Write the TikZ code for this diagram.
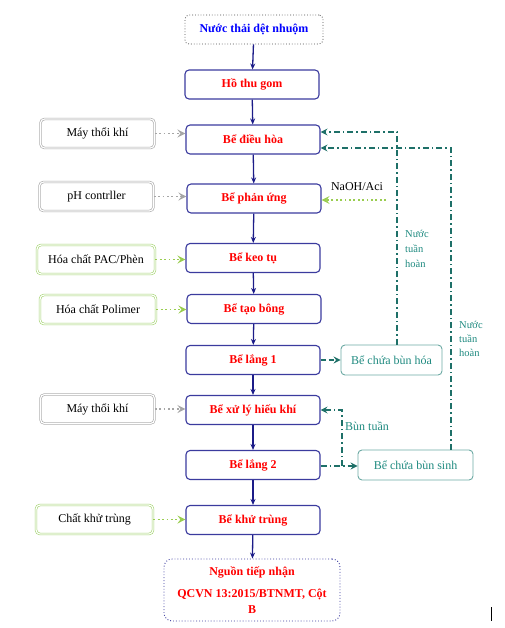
\documentclass[tikz,border=0pt]{standalone}
\usepackage{fontspec}
\setmainfont{Liberation Serif}
\usetikzlibrary{arrows.meta}
\definecolor{navy}{HTML}{1C1C88}
\definecolor{boxnavy}{HTML}{3B3B9E}
\definecolor{teal1}{HTML}{1E7068}
\definecolor{tealtext}{HTML}{1F8A80}
\definecolor{tealbox}{HTML}{6CA9A3}
\definecolor{grayb}{HTML}{A6A6A6}
\definecolor{greenb}{HTML}{A2D36E}
\definecolor{greena}{HTML}{9ACD50}
\begin{document}
\begin{tikzpicture}[x=1pt,y=-1pt,
  mainbox/.style={draw=boxnavy, line width=1.1pt, rounded corners=4pt,
    minimum width=134pt, minimum height=29pt, inner sep=0pt,
    font=\fontsize{12}{14}\selectfont\bfseries, text=red},
  topbox/.style={draw=black!70, dotted, line width=0.8pt, rounded corners=4pt,
    minimum width=138pt, minimum height=29pt, inner sep=0pt,
    font=\fontsize{12}{14}\selectfont\bfseries, text=blue},
  endbox/.style={draw=boxnavy, dotted, line width=0.9pt, rounded corners=8pt,
    minimum width=176pt, minimum height=62pt, inner sep=0pt, align=center,
    font=\fontsize{12}{16}\selectfont\bfseries, text=red},
  graybox/.style={draw=grayb, double, double distance=1.2pt, line width=0.6pt,
    rounded corners=4pt, minimum width=114pt, minimum height=29pt, inner sep=0pt,
    font=\fontsize{12}{14}\selectfont},
  greenbox/.style={graybox, draw=greenb},
  sludgebox/.style={draw=tealbox, line width=0.9pt, rounded corners=4pt,
    minimum height=30pt, inner sep=0pt, text=tealtext,
    font=\fontsize{12}{14}\selectfont},
  flow/.style={draw=navy, line width=1.3pt, -{Stealth[length=6pt,width=5pt]}},
  grayarrow/.style={draw=grayb, line width=1.3pt, dash pattern=on 1.8pt off 2.6pt,
    -{Stealth[length=8pt,width=8pt,inset=3pt,fill=grayb!60]}},
  greenarrow/.style={draw=greena, line width=1.3pt, dash pattern=on 1.8pt off 2.6pt,
    -{Stealth[length=8pt,width=8pt,inset=3pt,fill=greena!60]}},
  recyc/.style={draw=teal1, line width=1.1pt,
    dash pattern=on 6pt off 3pt on 1.5pt off 3pt,
    -{Stealth[length=7pt,width=7pt,inset=2.5pt]}},
  tealdash/.style={draw=teal1, line width=1.1pt, dash pattern=on 5pt off 3pt},
  teallabel/.style={text=tealtext, inner sep=0pt, align=left},
]
\useasboundingbox (0,0) rectangle (504,628);

% main column
\node[topbox]  (src)     at (254,29.5) {Nước thải dệt nhuộm};
\node[mainbox] (thugom)  at (252,84.5) {Hồ thu gom};
\node[mainbox] (dieuhoa) at (253,139.5) {Bể điều hòa};
\node[mainbox] (phanung) at (254,198.5) {Bể phản ứng};
\node[mainbox] (keotu)   at (253,258) {Bể keo tụ};
\node[mainbox] (taobong) at (254,309) {Bể tạo bông};
\node[mainbox] (lang1)   at (253,360) {Bể lắng 1};
\node[mainbox] (xuly)    at (253,410) {Bể xử lý hiếu khí};
\node[mainbox] (lang2)   at (253,465) {Bể lắng 2};
\node[mainbox] (khutrung) at (253,520) {Bể khử trùng};
\node[endbox]  (nguon)   at (252,590) {Nguồn tiếp nhận\\[6pt]QCVN 13:2015/BTNMT, Cột\\B};

% left inputs
\node[graybox]  (may1)    at (97.5,133.5) {Máy thổi khí};
\node[graybox]  (ph)      at (96.5,196.5) {pH contrller};
\node[greenbox, minimum width=118pt] (pac) at (96,259.5) {Hóa chất PAC/Phèn};
\node[greenbox, minimum width=116pt] (poli) at (98,309.5) {Hóa chất Polimer};
\node[graybox]  (may2)    at (97.5,409) {Máy thổi khí};
\node[greenbox, minimum width=117pt] (chat) at (94.5,519.5) {Chất khử trùng};

% sludge tanks
\node[sludgebox, minimum width=101pt] (bunhoa)  at (391.5,360) {Bể chứa bùn hóa};
\node[sludgebox, minimum width=115pt] (bunsinh) at (415.5,465) {Bể chứa bùn sinh};

% main flow
\draw[flow] (src) -- (thugom);
\draw[flow] (thugom) -- (dieuhoa);
\draw[flow] (dieuhoa) -- (phanung);
\draw[flow] (phanung) -- (keotu);
\draw[flow] (keotu) -- (taobong);
\draw[flow] (taobong) -- (lang1);
\draw[flow] (lang1) -- (xuly);
\draw[flow] (xuly) -- (lang2);
\draw[flow] (lang2) -- (khutrung);
\draw[flow] (khutrung) -- (nguon);

% side inputs
\draw[grayarrow]  (may1.east) -- (may1.east -| dieuhoa.west);
\draw[grayarrow]  (ph.east) -- (ph.east -| phanung.west);
\draw[greenarrow] (pac.east) -- (pac.east -| keotu.west);
\draw[greenarrow] (poli.east) -- (poli.east -| taobong.west);
\draw[grayarrow]  (may2.east) -- (may2.east -| xuly.west);
\draw[greenarrow] (chat.east) -- (chat.east -| khutrung.west);

% NaOH
\coordinate (n1) at (386,200);
\draw[greenarrow] (n1) -- (phanung.east |- n1);
\node[inner sep=0pt, font=\fontsize{12}{14}\selectfont] (naoh) at (357,187) {NaOH/Aci};

% sludge lines
\draw[tealdash, -{Stealth[length=7pt,width=7pt,inset=2.5pt]}] (lang1.east) -- (bunhoa.west);
\coordinate (j) at (342,466);
\draw[recyc] (lang2.east |- j) -- (j) -- (bunsinh.west |- j);
\draw[recyc] (j) |- (xuly.east);
\node[teallabel, anchor=west, font=\fontsize{12}{14}\selectfont] (buntuan) at (345,426) {Bùn tuần};

% recirculation
\coordinate (c1) at (397,132);
\coordinate (c2) at (451,148);
\draw[recyc] (bunhoa.north -| c1) -- (c1) -- (dieuhoa.east |- c1);
\draw[recyc] (bunsinh.north -| c2) -- (c2) -- (dieuhoa.east |- c2);
\node[teallabel, anchor=north west, font=\fontsize{10.5}{15}\selectfont] (nth1) at (405,230) {Nước\\tuần\\hoàn};
\node[teallabel, anchor=north west, font=\fontsize{10.5}{14}\selectfont] (nth2) at (459,321) {Nước\\tuần\\hoàn};

% cursor mark
\coordinate (k1) at (491,607);
\coordinate (k2) at (491,621);
\draw[line width=0.9pt] (k1) -- (k2);
\end{tikzpicture}
\end{document}
